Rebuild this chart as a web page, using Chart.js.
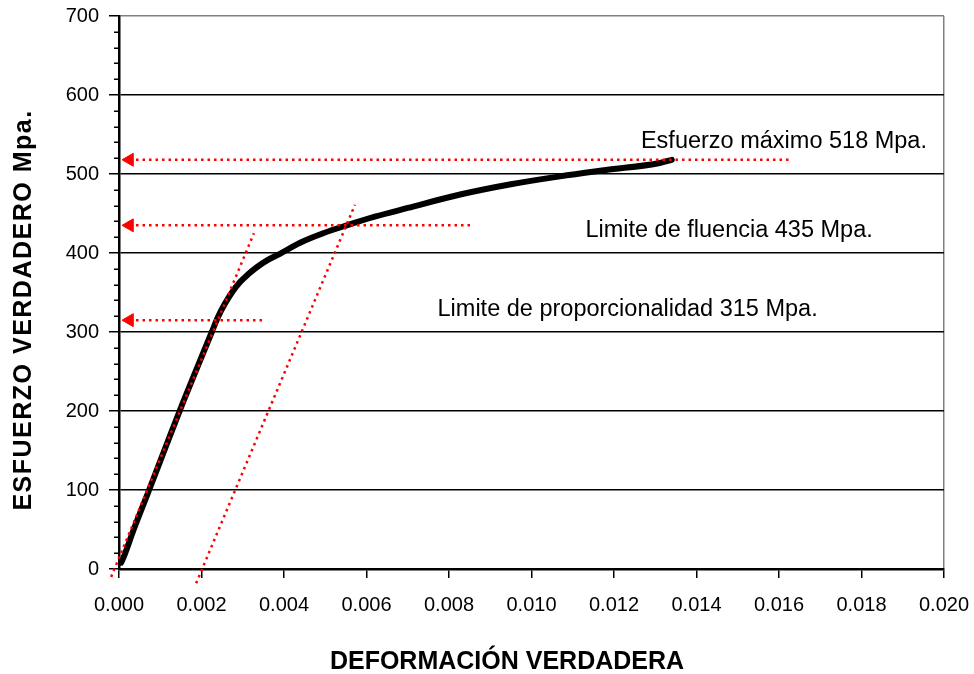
<!DOCTYPE html>
<html>
<head>
<meta charset="utf-8">
<script src="https://cdn.jsdelivr.net/npm/chart.js@4/dist/chart.umd.min.js"></script>
<style>
  html, body { margin: 0; padding: 0; background: #ffffff; }
  #wrap { width: 974px; height: 674px; position: relative; }
</style>
</head>
<body>
<div id="wrap"><canvas id="c" width="974" height="674"></canvas></div>
<script>
// True stress-strain curve
const strain = [0.00005, 0.00012, 0.00035, 0.00073, 0.00115, 0.00156, 0.00192, 0.00225, 0.0024, 0.00257, 0.00275, 0.00293, 0.00313, 0.00334, 0.0036, 0.0039, 0.00439, 0.00495, 0.00552, 0.0062, 0.007, 0.00827, 0.0095, 0.01069, 0.0118, 0.01311, 0.0134];
const stress = [8, 16, 49, 100, 157, 212, 258, 300, 319, 336, 351, 363, 373, 382, 391, 399, 413, 425, 435, 446, 457, 474, 487, 497, 505, 514, 518];

// Elastic slope line and the parallel offset line
const elasticStrain = [-0.00019, 0.00327];
const elasticStress = [-10, 425];
const offsetStrain = [0.00187, 0.00572];
const offsetStress = [-18, 461];

// Reference levels marked with arrows towards the stress axis
const levelValues = [518, 435, 315];
const levelEndStrain = [0.01632, 0.00858, 0.00349];
const arrowStrain = 0.000255;
const levelLabels = ['Esfuerzo máximo 518 Mpa.', 'Limite de fluencia 435 Mpa.', 'Limite de proporcionalidad 315 Mpa.'];

// Axis ticks and titles
const xTicks = [0, 0.002, 0.004, 0.006, 0.008, 0.010, 0.012, 0.014, 0.016, 0.018, 0.020];
const yTicks = [0, 100, 200, 300, 400, 500, 600, 700];
const xTitle = 'DEFORMACIÓN VERDADERA';
const yTitle = 'ESFUERZO VERDADERO Mpa.';

const FONT = "'Liberation Sans', Arial, sans-serif";
const RED = '#ff0000';

// where each level label sits (strain at text centre, stress at baseline)
const labelPlacement = [
  { x: 0.01612, y: 533 },
  { x: 0.01479, y: 420 },
  { x: 0.01233, y: 320 }
];

const toPts = (xs, ys) => xs.map((v, i) => ({ x: v, y: ys[i] }));

const dotted = {
  borderColor: RED,
  borderWidth: 2.5,
  borderDash: [2.5, 4],
  pointRadius: 0,
  fill: false,
  tension: 0,
  clip: false
};

const datasets = [];
levelValues.forEach((lv, i) => {
  datasets.push(Object.assign({}, dotted, {
    label: 'nivel ' + lv,
    data: [{ x: arrowStrain, y: lv }, { x: levelEndStrain[i], y: lv }],
    pointStyle: 'triangle',
    pointRotation: 270,
    pointRadius: ctx => ctx.dataIndex === 0 ? 7.5 : 0,
    pointBackgroundColor: RED,
    pointBorderColor: RED,
    pointBorderWidth: 1,
    order: 1
  }));
});
datasets.push(Object.assign({}, dotted, { label: 'elastica', data: toPts(elasticStrain, elasticStress), order: 1 }));
datasets.push(Object.assign({}, dotted, { label: 'paralela', data: toPts(offsetStrain, offsetStress), order: 1 }));
datasets.push({
  label: 'curva',
  data: toPts(strain, stress),
  borderColor: '#000000',
  borderWidth: 6,
  borderCapStyle: 'round',
  borderJoinStyle: 'round',
  pointRadius: 0,
  fill: false,
  cubicInterpolationMode: 'monotone',
  order: 2
});

// minor ticks, level labels and axis titles
const decorations = {
  id: 'decorations',
  afterDraw(chart) {
    const { ctx, scales: { x, y }, chartArea } = chart;
    ctx.save();
    // minor ticks on the stress axis
    ctx.strokeStyle = '#000';
    ctx.lineWidth = 1.5;
    for (let v = yTicks[0]; v <= yTicks[yTicks.length - 1]; v += 20) {
      if (v % 100 === 0) continue;
      const py = Math.round(y.getPixelForValue(v)) + 0.25;
      ctx.beginPath();
      ctx.moveTo(chartArea.left - 5, py);
      ctx.lineTo(chartArea.left, py);
      ctx.stroke();
    }
    // level labels
    ctx.fillStyle = '#000';
    ctx.font = '23.5px ' + FONT;
    ctx.textAlign = 'center';
    ctx.textBaseline = 'alphabetic';
    levelLabels.forEach((t, i) => {
      ctx.fillText(t, x.getPixelForValue(labelPlacement[i].x), y.getPixelForValue(labelPlacement[i].y));
    });
    // axis titles
    ctx.font = 'bold 25px ' + FONT;
    ctx.textBaseline = 'middle';
    ctx.fillText(xTitle, 507, 662);
    ctx.translate(24, 310);
    ctx.rotate(-Math.PI / 2);
    if ('letterSpacing' in ctx) ctx.letterSpacing = '1.5px';
    ctx.fillText(yTitle, 0, 0);
    ctx.restore();
  }
};

new Chart(document.getElementById('c'), {
  type: 'line',
  data: { datasets },
  options: {
    responsive: false,
    animation: false,
    devicePixelRatio: 1,
    layout: { padding: { top: 16, right: 30, left: 0, bottom: 0 } },
    plugins: { legend: { display: false }, tooltip: { enabled: false } },
    scales: {
      x: {
        type: 'linear',
        min: xTicks[0],
        max: xTicks[xTicks.length - 1],
        afterFit: s => { s.height = 105; s.paddingLeft = 0; s.paddingRight = 0; },
        afterBuildTicks: s => { s.ticks = xTicks.map(v => ({ value: v })); },
        ticks: {
          color: '#000',
          font: { family: FONT, size: 20 },
          padding: 15,
          maxRotation: 0,
          autoSkip: false,
          callback: v => Number(v).toFixed(3)
        },
        grid: {
          drawOnChartArea: true,
          color: ctx => (ctx.tick && ctx.tick.value === xTicks[xTicks.length - 1]) ? '#808080' : 'rgba(0,0,0,0)',
          lineWidth: 1.5,
          drawTicks: true,
          tickLength: 9,
          tickColor: '#000',
          tickWidth: 1.5
        },
        border: { display: true, color: '#000', width: 2.5 }
      },
      y: {
        type: 'linear',
        min: yTicks[0],
        max: yTicks[yTicks.length - 1],
        afterFit: s => { s.width = 119; s.paddingTop = 0; s.paddingBottom = 0; },
        afterBuildTicks: s => { s.ticks = yTicks.map(v => ({ value: v })); },
        ticks: {
          color: '#000',
          font: { family: FONT, size: 20 },
          padding: 10,
          autoSkip: false
        },
        grid: {
          color: ctx => (ctx.tick && ctx.tick.value === yTicks[yTicks.length - 1]) ? '#808080' : '#000',
          lineWidth: 1.5,
          drawTicks: true,
          tickLength: 10,
          tickColor: '#000',
          tickWidth: 1.5
        },
        border: { display: true, color: '#000', width: 2.5 }
      }
    }
  },
  plugins: [decorations]
});
</script>
</body>
</html>
